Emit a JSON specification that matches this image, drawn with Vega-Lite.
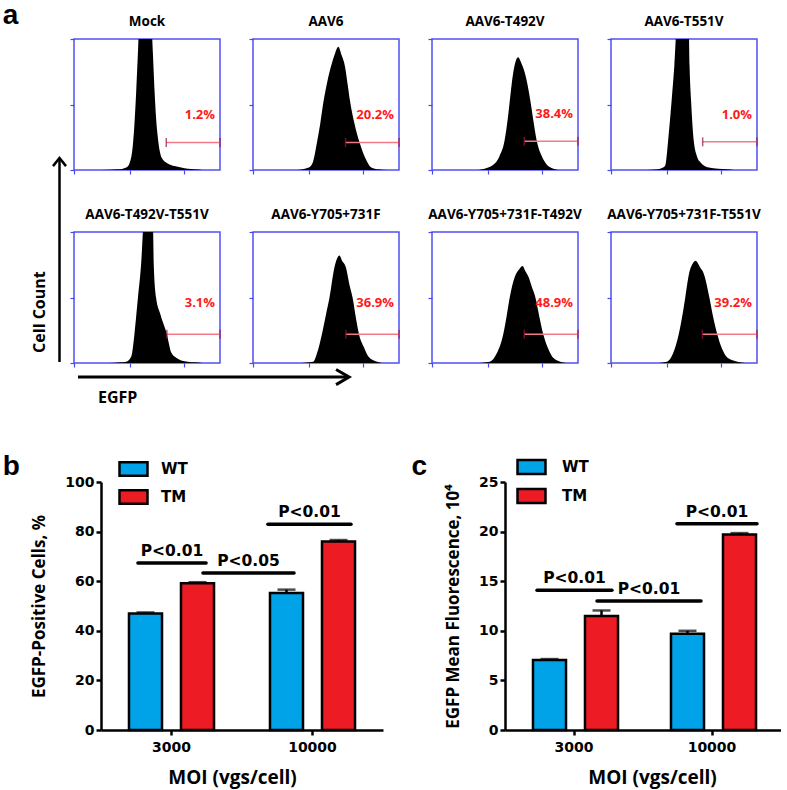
{
"$schema": "https://vega.github.io/schema/vega-lite/v6.json",
"background": "white",
"padding": {"left": 2, "top": 2, "right": 0, "bottom": 6},
"title": {"text": "a", "anchor": "start", "frame": "bounds", "font": "Liberation Sans", "fontSize": 28, "fontWeight": "bold", "color": "black", "offset": -15.5},
"config": {"view": {"stroke": null}, "font": "Open Sans"},
"columns": 5,
"bounds": "flush",
"spacing": {"row": 0, "column": 33},
"resolve": {"scale": {"fill": "independent"}, "legend": {"fill": "independent"}},
"datasets": {
"hist": [
{"p":"Mock","x":0.9,"y":0},{"p":"Mock","x":1.5,"y":0.5},{"p":"Mock","x":1.79,"y":2},{"p":"Mock","x":1.9,"y":5},{"p":"Mock","x":2.02,"y":20},{"p":"Mock","x":2.07,"y":35},{"p":"Mock","x":2.13,"y":60},{"p":"Mock","x":2.19,"y":90},{"p":"Mock","x":2.24,"y":115},{"p":"Mock","x":2.45,"y":125},{"p":"Mock","x":2.64,"y":115},{"p":"Mock","x":2.7,"y":90},{"p":"Mock","x":2.76,"y":60},{"p":"Mock","x":2.81,"y":40},{"p":"Mock","x":2.87,"y":25},{"p":"Mock","x":2.96,"y":12},{"p":"Mock","x":3.04,"y":8},{"p":"Mock","x":3.21,"y":5},{"p":"Mock","x":3.44,"y":3},{"p":"Mock","x":3.67,"y":2},{"p":"Mock","x":3.9,"y":1},{"p":"Mock","x":4.12,"y":0.5},{"p":"Mock","x":4.4,"y":0},
{"p":"AAV6","x":1.5,"y":0},{"p":"AAV6","x":1.91,"y":2},{"p":"AAV6","x":2.05,"y":6},{"p":"AAV6","x":2.19,"y":21},{"p":"AAV6","x":2.3,"y":35},{"p":"AAV6","x":2.42,"y":53},{"p":"AAV6","x":2.55,"y":68},{"p":"AAV6","x":2.67,"y":79},{"p":"AAV6","x":2.81,"y":89},{"p":"AAV6","x":2.92,"y":94},{"p":"AAV6","x":3.03,"y":88},{"p":"AAV6","x":3.15,"y":79},{"p":"AAV6","x":3.25,"y":64},{"p":"AAV6","x":3.32,"y":53},{"p":"AAV6","x":3.48,"y":35},{"p":"AAV6","x":3.65,"y":21},{"p":"AAV6","x":3.85,"y":9},{"p":"AAV6","x":4.05,"y":2},{"p":"AAV6","x":4.3,"y":0.5},{"p":"AAV6","x":4.6,"y":0},
{"p":"AAV6-T492V","x":1.5,"y":0},{"p":"AAV6-T492V","x":1.8,"y":1},{"p":"AAV6-T492V","x":2.1,"y":4},{"p":"AAV6-T492V","x":2.3,"y":10},{"p":"AAV6-T492V","x":2.49,"y":23},{"p":"AAV6-T492V","x":2.6,"y":40},{"p":"AAV6-T492V","x":2.67,"y":54},{"p":"AAV6-T492V","x":2.78,"y":74},{"p":"AAV6-T492V","x":2.88,"y":84},{"p":"AAV6-T492V","x":2.95,"y":86},{"p":"AAV6-T492V","x":3.05,"y":82},{"p":"AAV6-T492V","x":3.18,"y":74},{"p":"AAV6-T492V","x":3.36,"y":54},{"p":"AAV6-T492V","x":3.47,"y":38},{"p":"AAV6-T492V","x":3.58,"y":23},{"p":"AAV6-T492V","x":3.75,"y":11},{"p":"AAV6-T492V","x":3.9,"y":5},{"p":"AAV6-T492V","x":4.16,"y":1},{"p":"AAV6-T492V","x":4.4,"y":0},
{"p":"AAV6-T551V","x":1.2,"y":0},{"p":"AAV6-T551V","x":1.6,"y":0.5},{"p":"AAV6-T551V","x":1.85,"y":3},{"p":"AAV6-T551V","x":1.96,"y":23},{"p":"AAV6-T551V","x":2.08,"y":54},{"p":"AAV6-T551V","x":2.17,"y":80},{"p":"AAV6-T551V","x":2.25,"y":110},{"p":"AAV6-T551V","x":2.45,"y":125},{"p":"AAV6-T551V","x":2.66,"y":110},{"p":"AAV6-T551V","x":2.69,"y":80},{"p":"AAV6-T551V","x":2.74,"y":54},{"p":"AAV6-T551V","x":2.83,"y":23},{"p":"AAV6-T551V","x":2.95,"y":10},{"p":"AAV6-T551V","x":3.06,"y":6},{"p":"AAV6-T551V","x":3.35,"y":2},{"p":"AAV6-T551V","x":3.98,"y":0.5},{"p":"AAV6-T551V","x":4.2,"y":0},
{"p":"AAV6-T492V-T551V","x":1.2,"y":0},{"p":"AAV6-T492V-T551V","x":1.6,"y":0.5},{"p":"AAV6-T492V-T551V","x":1.79,"y":1},{"p":"AAV6-T492V-T551V","x":1.96,"y":5},{"p":"AAV6-T492V-T551V","x":2.07,"y":22},{"p":"AAV6-T492V-T551V","x":2.19,"y":50},{"p":"AAV6-T492V-T551V","x":2.3,"y":76},{"p":"AAV6-T492V-T551V","x":2.39,"y":110},{"p":"AAV6-T492V-T551V","x":2.55,"y":125},{"p":"AAV6-T492V-T551V","x":2.7,"y":110},{"p":"AAV6-T492V-T551V","x":2.73,"y":76},{"p":"AAV6-T492V-T551V","x":2.81,"y":50},{"p":"AAV6-T492V-T551V","x":2.96,"y":37},{"p":"AAV6-T492V-T551V","x":3.18,"y":22},{"p":"AAV6-T492V-T551V","x":3.33,"y":8},{"p":"AAV6-T492V-T551V","x":3.5,"y":4},{"p":"AAV6-T492V-T551V","x":3.67,"y":2},{"p":"AAV6-T492V-T551V","x":4.12,"y":0.5},{"p":"AAV6-T492V-T551V","x":4.4,"y":0},
{"p":"AAV6-Y705+731F","x":1.5,"y":0},{"p":"AAV6-Y705+731F","x":2.06,"y":1},{"p":"AAV6-Y705+731F","x":2.2,"y":8},{"p":"AAV6-Y705+731F","x":2.36,"y":22},{"p":"AAV6-Y705+731F","x":2.5,"y":37},{"p":"AAV6-Y705+731F","x":2.62,"y":50},{"p":"AAV6-Y705+731F","x":2.79,"y":73},{"p":"AAV6-Y705+731F","x":2.96,"y":82},{"p":"AAV6-Y705+731F","x":3.05,"y":78},{"p":"AAV6-Y705+731F","x":3.18,"y":73},{"p":"AAV6-Y705+731F","x":3.3,"y":60},{"p":"AAV6-Y705+731F","x":3.41,"y":50},{"p":"AAV6-Y705+731F","x":3.52,"y":35},{"p":"AAV6-Y705+731F","x":3.63,"y":22},{"p":"AAV6-Y705+731F","x":3.8,"y":12},{"p":"AAV6-Y705+731F","x":3.95,"y":5},{"p":"AAV6-Y705+731F","x":4.25,"y":1},{"p":"AAV6-Y705+731F","x":4.5,"y":0},
{"p":"AAV6-Y705+731F-T492V","x":1.5,"y":0},{"p":"AAV6-Y705+731F-T492V","x":1.98,"y":1},{"p":"AAV6-Y705+731F-T492V","x":2.21,"y":7},{"p":"AAV6-Y705+731F-T492V","x":2.44,"y":22},{"p":"AAV6-Y705+731F-T492V","x":2.55,"y":35},{"p":"AAV6-Y705+731F-T492V","x":2.67,"y":51},{"p":"AAV6-Y705+731F-T492V","x":2.84,"y":66},{"p":"AAV6-Y705+731F-T492V","x":3.0,"y":72},{"p":"AAV6-Y705+731F-T492V","x":3.1,"y":74},{"p":"AAV6-Y705+731F-T492V","x":3.2,"y":70},{"p":"AAV6-Y705+731F-T492V","x":3.3,"y":66},{"p":"AAV6-Y705+731F-T492V","x":3.42,"y":58},{"p":"AAV6-Y705+731F-T492V","x":3.53,"y":51},{"p":"AAV6-Y705+731F-T492V","x":3.68,"y":35},{"p":"AAV6-Y705+731F-T492V","x":3.81,"y":22},{"p":"AAV6-Y705+731F-T492V","x":4.0,"y":10},{"p":"AAV6-Y705+731F-T492V","x":4.15,"y":4},{"p":"AAV6-Y705+731F-T492V","x":4.39,"y":1},{"p":"AAV6-Y705+731F-T492V","x":4.6,"y":0},
{"p":"AAV6-Y705+731F-T551V","x":1.5,"y":0},{"p":"AAV6-Y705+731F-T551V","x":1.92,"y":1},{"p":"AAV6-Y705+731F-T551V","x":2.12,"y":7},{"p":"AAV6-Y705+731F-T551V","x":2.32,"y":22},{"p":"AAV6-Y705+731F-T551V","x":2.45,"y":37},{"p":"AAV6-Y705+731F-T551V","x":2.55,"y":51},{"p":"AAV6-Y705+731F-T551V","x":2.67,"y":68},{"p":"AAV6-Y705+731F-T551V","x":2.8,"y":76},{"p":"AAV6-Y705+731F-T551V","x":2.9,"y":78},{"p":"AAV6-Y705+731F-T551V","x":3.05,"y":73},{"p":"AAV6-Y705+731F-T551V","x":3.18,"y":68},{"p":"AAV6-Y705+731F-T551V","x":3.36,"y":51},{"p":"AAV6-Y705+731F-T551V","x":3.5,"y":35},{"p":"AAV6-Y705+731F-T551V","x":3.64,"y":22},{"p":"AAV6-Y705+731F-T551V","x":3.8,"y":11},{"p":"AAV6-Y705+731F-T551V","x":3.99,"y":4},{"p":"AAV6-Y705+731F-T551V","x":4.33,"y":1},{"p":"AAV6-Y705+731F-T551V","x":4.6,"y":0}
],
"gates": [
{"p":"Mock","g1":3.16,"g2":5,"gy":21,"lab":"1.2%"},
{"p":"AAV6","g1":3.17,"g2":5,"gy":21,"lab":"20.2%"},
{"p":"AAV6-T492V","g1":3.16,"g2":5,"gy":22,"lab":"38.4%"},
{"p":"AAV6-T551V","g1":3.14,"g2":5,"gy":21.5,"lab":"1.0%"},
{"p":"AAV6-T492V-T551V","g1":3.18,"g2":5,"gy":22,"lab":"3.1%"},
{"p":"AAV6-Y705+731F","g1":3.18,"g2":5,"gy":22,"lab":"36.9%"},
{"p":"AAV6-Y705+731F-T492V","g1":3.16,"g2":5,"gy":22,"lab":"48.9%"},
{"p":"AAV6-Y705+731F-T551V","g1":3.13,"g2":5,"gy":22,"lab":"39.2%"}
],
"bdata": [
{"moi":"3000","grp":"WT","v":47.0,"hi":47.4},{"moi":"3000","grp":"TM","v":59.2,"hi":59.6},
{"moi":"10000","grp":"WT","v":55.2,"hi":56.6},{"moi":"10000","grp":"TM","v":76.0,"hi":76.6}
],
"cdata": [
{"moi":"3000","grp":"WT","v":7.05,"hi":7.15},{"moi":"3000","grp":"TM","v":11.5,"hi":12.05},
{"moi":"10000","grp":"WT","v":9.7,"hi":10.0},{"moi":"10000","grp":"TM","v":19.7,"hi":19.85}
],
"bsig": [
{"x1":0.262,"x2":0.745,"y":67.3,"t":"P<0.01"},
{"x1":0.723,"x2":1.369,"y":63.3,"t":"P<0.05"},
{"x1":1.184,"x2":1.773,"y":83,"t":"P<0.01"}
],
"csig": [
{"x1":0.232,"x2":0.775,"y":14.1,"t":"P<0.01"},
{"x1":0.667,"x2":1.42,"y":13.0,"t":"P<0.01"},
{"x1":1.246,"x2":1.826,"y":20.8,"t":"P<0.01"}
]
},
"concat": [
  {"width": 20, "height": 193,
   "layer": [
    {"data": {"values": [{"x": 1.925, "y1": 0, "y2": 0.383}]},
     "mark": {"type": "rule", "color": "black", "strokeWidth": 2.5},
     "encoding": {"x": {"field": "x", "type": "quantitative", "scale": {"domain": [0, 1], "nice": false}, "axis": null},
                  "y": {"field": "y1", "type": "quantitative", "scale": {"domain": [0, 1], "nice": false}, "axis": null},
                  "y2": {"field": "y2"}}},
    {"data": {"values": [{"x": 1.925, "y": 0.383}]},
     "mark": {"type": "point", "shape": "M-0.5,0.62L0,0L0.5,0.62", "size": 676, "filled": false, "color": "black", "strokeWidth": 2.5, "opacity": 1},
     "encoding": {"x": {"field": "x", "type": "quantitative", "axis": null}, "y": {"field": "y", "type": "quantitative", "axis": null}}}
   ]},
  {"width":146,"height":131,"view":{"stroke":"#5050f5","strokeWidth":1.5},
   "title":{"text":"Mock","font":"Open Sans","fontSize":13.5,"fontWeight":"bold","color":"black","offset":9.5},
   "layer":[
    {"data":{"name":"hist"},"transform":[{"filter":"datum.p === 'Mock'"}],
     "mark":{"type":"area","color":"black","interpolate":"monotone","clip":true},
     "encoding":{"x":{"field":"x","type":"quantitative","scale":{"domain":[0,5],"nice":false,"zero":false},"axis":{"values":[0,0.301,0.477,0.602,0.699,0.778,0.845,0.903,0.954,1,1.301,1.477,1.602,1.699,1.778,1.845,1.903,1.954,2,2.301,2.477,2.602,2.699,2.778,2.845,2.903,2.954,3,3.301,3.477,3.602,3.699,3.778,3.845,3.903,3.954,4,4.301,4.477,4.602,4.699,4.778,4.845,4.903,4.954,5],"labels":false,"domain":false,"grid":false,"title":null,"tickColor":"#4848f0","tickSize":4,"tickWidth":1.2}},
                 "y":{"field":"y","type":"quantitative","scale":{"domain":[0,100],"nice":false},"axis":{"values":[0,25,50,75,100],"labels":false,"domain":false,"grid":false,"title":null,"tickColor":"#4848f0","tickSize":4,"tickWidth":1.2}}}},
    {"data":{"name":"gates"},"transform":[{"filter":"datum.p === 'Mock'"}],
     "layer":[
      {"mark":{"type":"rule","color":"#f27a88","strokeWidth":1.5},"encoding":{"x":{"field":"g1","type":"quantitative"},"x2":{"field":"g2"},"y":{"field":"gy","type":"quantitative"}}},
      {"mark":{"type":"tick","orient":"vertical","color":"#a0103c","size":9,"thickness":1.5},"encoding":{"x":{"field":"g1","type":"quantitative"},"y":{"field":"gy","type":"quantitative"}}},
      {"mark":{"type":"tick","orient":"vertical","color":"#a0103c","size":9,"thickness":1.5},"encoding":{"x":{"field":"g2","type":"quantitative"},"y":{"field":"gy","type":"quantitative"}}},
      {"mark":{"type":"text","align":"right","baseline":"middle","dx":-5,"dy":-27,"color":"#ff1a1a","font":"Open Sans","fontSize":13,"fontWeight":"bold"},"encoding":{"x":{"field":"g2","type":"quantitative"},"y":{"field":"gy","type":"quantitative"},"text":{"field":"lab"}}}
     ]}
   ]},
  {"width":146,"height":131,"view":{"stroke":"#5050f5","strokeWidth":1.5},
   "title":{"text":"AAV6","font":"Open Sans","fontSize":13.5,"fontWeight":"bold","color":"black","offset":9.5},
   "layer":[
    {"data":{"name":"hist"},"transform":[{"filter":"datum.p === 'AAV6'"}],
     "mark":{"type":"area","color":"black","interpolate":"monotone","clip":true},
     "encoding":{"x":{"field":"x","type":"quantitative","scale":{"domain":[0,5],"nice":false,"zero":false},"axis":{"values":[0,0.301,0.477,0.602,0.699,0.778,0.845,0.903,0.954,1,1.301,1.477,1.602,1.699,1.778,1.845,1.903,1.954,2,2.301,2.477,2.602,2.699,2.778,2.845,2.903,2.954,3,3.301,3.477,3.602,3.699,3.778,3.845,3.903,3.954,4,4.301,4.477,4.602,4.699,4.778,4.845,4.903,4.954,5],"labels":false,"domain":false,"grid":false,"title":null,"tickColor":"#4848f0","tickSize":4,"tickWidth":1.2}},
                 "y":{"field":"y","type":"quantitative","scale":{"domain":[0,100],"nice":false},"axis":{"values":[0,25,50,75,100],"labels":false,"domain":false,"grid":false,"title":null,"tickColor":"#4848f0","tickSize":4,"tickWidth":1.2}}}},
    {"data":{"name":"gates"},"transform":[{"filter":"datum.p === 'AAV6'"}],
     "layer":[
      {"mark":{"type":"rule","color":"#f27a88","strokeWidth":1.5},"encoding":{"x":{"field":"g1","type":"quantitative"},"x2":{"field":"g2"},"y":{"field":"gy","type":"quantitative"}}},
      {"mark":{"type":"tick","orient":"vertical","color":"#a0103c","size":9,"thickness":1.5},"encoding":{"x":{"field":"g1","type":"quantitative"},"y":{"field":"gy","type":"quantitative"}}},
      {"mark":{"type":"tick","orient":"vertical","color":"#a0103c","size":9,"thickness":1.5},"encoding":{"x":{"field":"g2","type":"quantitative"},"y":{"field":"gy","type":"quantitative"}}},
      {"mark":{"type":"text","align":"right","baseline":"middle","dx":-5,"dy":-27,"color":"#ff1a1a","font":"Open Sans","fontSize":13,"fontWeight":"bold"},"encoding":{"x":{"field":"g2","type":"quantitative"},"y":{"field":"gy","type":"quantitative"},"text":{"field":"lab"}}}
     ]}
   ]},
  {"width":146,"height":131,"view":{"stroke":"#5050f5","strokeWidth":1.5},
   "title":{"text":"AAV6-T492V","font":"Open Sans","fontSize":13.5,"fontWeight":"bold","color":"black","offset":9.5},
   "layer":[
    {"data":{"name":"hist"},"transform":[{"filter":"datum.p === 'AAV6-T492V'"}],
     "mark":{"type":"area","color":"black","interpolate":"monotone","clip":true},
     "encoding":{"x":{"field":"x","type":"quantitative","scale":{"domain":[0,5],"nice":false,"zero":false},"axis":{"values":[0,0.301,0.477,0.602,0.699,0.778,0.845,0.903,0.954,1,1.301,1.477,1.602,1.699,1.778,1.845,1.903,1.954,2,2.301,2.477,2.602,2.699,2.778,2.845,2.903,2.954,3,3.301,3.477,3.602,3.699,3.778,3.845,3.903,3.954,4,4.301,4.477,4.602,4.699,4.778,4.845,4.903,4.954,5],"labels":false,"domain":false,"grid":false,"title":null,"tickColor":"#4848f0","tickSize":4,"tickWidth":1.2}},
                 "y":{"field":"y","type":"quantitative","scale":{"domain":[0,100],"nice":false},"axis":{"values":[0,25,50,75,100],"labels":false,"domain":false,"grid":false,"title":null,"tickColor":"#4848f0","tickSize":4,"tickWidth":1.2}}}},
    {"data":{"name":"gates"},"transform":[{"filter":"datum.p === 'AAV6-T492V'"}],
     "layer":[
      {"mark":{"type":"rule","color":"#f27a88","strokeWidth":1.5},"encoding":{"x":{"field":"g1","type":"quantitative"},"x2":{"field":"g2"},"y":{"field":"gy","type":"quantitative"}}},
      {"mark":{"type":"tick","orient":"vertical","color":"#a0103c","size":9,"thickness":1.5},"encoding":{"x":{"field":"g1","type":"quantitative"},"y":{"field":"gy","type":"quantitative"}}},
      {"mark":{"type":"tick","orient":"vertical","color":"#a0103c","size":9,"thickness":1.5},"encoding":{"x":{"field":"g2","type":"quantitative"},"y":{"field":"gy","type":"quantitative"}}},
      {"mark":{"type":"text","align":"right","baseline":"middle","dx":-5,"dy":-27,"color":"#ff1a1a","font":"Open Sans","fontSize":13,"fontWeight":"bold"},"encoding":{"x":{"field":"g2","type":"quantitative"},"y":{"field":"gy","type":"quantitative"},"text":{"field":"lab"}}}
     ]}
   ]},
  {"width":146,"height":131,"view":{"stroke":"#5050f5","strokeWidth":1.5},
   "title":{"text":"AAV6-T551V","font":"Open Sans","fontSize":13.5,"fontWeight":"bold","color":"black","offset":9.5},
   "layer":[
    {"data":{"name":"hist"},"transform":[{"filter":"datum.p === 'AAV6-T551V'"}],
     "mark":{"type":"area","color":"black","interpolate":"monotone","clip":true},
     "encoding":{"x":{"field":"x","type":"quantitative","scale":{"domain":[0,5],"nice":false,"zero":false},"axis":{"values":[0,0.301,0.477,0.602,0.699,0.778,0.845,0.903,0.954,1,1.301,1.477,1.602,1.699,1.778,1.845,1.903,1.954,2,2.301,2.477,2.602,2.699,2.778,2.845,2.903,2.954,3,3.301,3.477,3.602,3.699,3.778,3.845,3.903,3.954,4,4.301,4.477,4.602,4.699,4.778,4.845,4.903,4.954,5],"labels":false,"domain":false,"grid":false,"title":null,"tickColor":"#4848f0","tickSize":4,"tickWidth":1.2}},
                 "y":{"field":"y","type":"quantitative","scale":{"domain":[0,100],"nice":false},"axis":{"values":[0,25,50,75,100],"labels":false,"domain":false,"grid":false,"title":null,"tickColor":"#4848f0","tickSize":4,"tickWidth":1.2}}}},
    {"data":{"name":"gates"},"transform":[{"filter":"datum.p === 'AAV6-T551V'"}],
     "layer":[
      {"mark":{"type":"rule","color":"#f27a88","strokeWidth":1.5},"encoding":{"x":{"field":"g1","type":"quantitative"},"x2":{"field":"g2"},"y":{"field":"gy","type":"quantitative"}}},
      {"mark":{"type":"tick","orient":"vertical","color":"#a0103c","size":9,"thickness":1.5},"encoding":{"x":{"field":"g1","type":"quantitative"},"y":{"field":"gy","type":"quantitative"}}},
      {"mark":{"type":"tick","orient":"vertical","color":"#a0103c","size":9,"thickness":1.5},"encoding":{"x":{"field":"g2","type":"quantitative"},"y":{"field":"gy","type":"quantitative"}}},
      {"mark":{"type":"text","align":"right","baseline":"middle","dx":-5,"dy":-27,"color":"#ff1a1a","font":"Open Sans","fontSize":13,"fontWeight":"bold"},"encoding":{"x":{"field":"g2","type":"quantitative"},"y":{"field":"gy","type":"quantitative"},"text":{"field":"lab"}}}
     ]}
   ]},
  {"width": 20, "height": 133,
   "layer": [
    {"data": {"values": [{"x": 1.925, "y1": 0.0226, "y2": 1}]},
     "mark": {"type": "rule", "color": "black", "strokeWidth": 2.5},
     "encoding": {"x": {"field": "x", "type": "quantitative", "scale": {"domain": [0, 1], "nice": false}, "axis": null},
                  "y": {"field": "y1", "type": "quantitative", "scale": {"domain": [0, 1], "nice": false}, "axis": null},
                  "y2": {"field": "y2"}}},
    {"data": {"values": [{"x": 0.95, "y": 0.398, "t": "Cell Count"}]},
     "mark": {"type": "text", "angle": 270, "align": "center", "baseline": "middle", "font": "Open Sans", "fontSize": 16, "fontWeight": "bold", "color": "black"},
     "encoding": {"x": {"field": "x", "type": "quantitative", "axis": null}, "y": {"field": "y", "type": "quantitative", "axis": null}, "text": {"field": "t"}}}
   ]},
  {"width":146,"height":131,"view":{"stroke":"#5050f5","strokeWidth":1.5},
   "title":{"text":"AAV6-T492V-T551V","font":"Open Sans","fontSize":13.5,"fontWeight":"bold","color":"black","offset":9.5},
   "layer":[
    {"data":{"name":"hist"},"transform":[{"filter":"datum.p === 'AAV6-T492V-T551V'"}],
     "mark":{"type":"area","color":"black","interpolate":"monotone","clip":true},
     "encoding":{"x":{"field":"x","type":"quantitative","scale":{"domain":[0,5],"nice":false,"zero":false},"axis":{"values":[0,0.301,0.477,0.602,0.699,0.778,0.845,0.903,0.954,1,1.301,1.477,1.602,1.699,1.778,1.845,1.903,1.954,2,2.301,2.477,2.602,2.699,2.778,2.845,2.903,2.954,3,3.301,3.477,3.602,3.699,3.778,3.845,3.903,3.954,4,4.301,4.477,4.602,4.699,4.778,4.845,4.903,4.954,5],"labels":false,"domain":false,"grid":false,"title":null,"tickColor":"#4848f0","tickSize":4,"tickWidth":1.2}},
                 "y":{"field":"y","type":"quantitative","scale":{"domain":[0,100],"nice":false},"axis":{"values":[0,25,50,75,100],"labels":false,"domain":false,"grid":false,"title":null,"tickColor":"#4848f0","tickSize":4,"tickWidth":1.2}}}},
    {"data":{"name":"gates"},"transform":[{"filter":"datum.p === 'AAV6-T492V-T551V'"}],
     "layer":[
      {"mark":{"type":"rule","color":"#f27a88","strokeWidth":1.5},"encoding":{"x":{"field":"g1","type":"quantitative"},"x2":{"field":"g2"},"y":{"field":"gy","type":"quantitative"}}},
      {"mark":{"type":"tick","orient":"vertical","color":"#a0103c","size":9,"thickness":1.5},"encoding":{"x":{"field":"g1","type":"quantitative"},"y":{"field":"gy","type":"quantitative"}}},
      {"mark":{"type":"tick","orient":"vertical","color":"#a0103c","size":9,"thickness":1.5},"encoding":{"x":{"field":"g2","type":"quantitative"},"y":{"field":"gy","type":"quantitative"}}},
      {"mark":{"type":"text","align":"right","baseline":"middle","dx":-5,"dy":-31,"color":"#ff1a1a","font":"Open Sans","fontSize":13,"fontWeight":"bold"},"encoding":{"x":{"field":"g2","type":"quantitative"},"y":{"field":"gy","type":"quantitative"},"text":{"field":"lab"}}}
     ]}
   ]},
  {"width":146,"height":131,"view":{"stroke":"#5050f5","strokeWidth":1.5},
   "title":{"text":"AAV6-Y705+731F","font":"Open Sans","fontSize":13.5,"fontWeight":"bold","color":"black","offset":9.5},
   "layer":[
    {"data":{"name":"hist"},"transform":[{"filter":"datum.p === 'AAV6-Y705+731F'"}],
     "mark":{"type":"area","color":"black","interpolate":"monotone","clip":true},
     "encoding":{"x":{"field":"x","type":"quantitative","scale":{"domain":[0,5],"nice":false,"zero":false},"axis":{"values":[0,0.301,0.477,0.602,0.699,0.778,0.845,0.903,0.954,1,1.301,1.477,1.602,1.699,1.778,1.845,1.903,1.954,2,2.301,2.477,2.602,2.699,2.778,2.845,2.903,2.954,3,3.301,3.477,3.602,3.699,3.778,3.845,3.903,3.954,4,4.301,4.477,4.602,4.699,4.778,4.845,4.903,4.954,5],"labels":false,"domain":false,"grid":false,"title":null,"tickColor":"#4848f0","tickSize":4,"tickWidth":1.2}},
                 "y":{"field":"y","type":"quantitative","scale":{"domain":[0,100],"nice":false},"axis":{"values":[0,25,50,75,100],"labels":false,"domain":false,"grid":false,"title":null,"tickColor":"#4848f0","tickSize":4,"tickWidth":1.2}}}},
    {"data":{"name":"gates"},"transform":[{"filter":"datum.p === 'AAV6-Y705+731F'"}],
     "layer":[
      {"mark":{"type":"rule","color":"#f27a88","strokeWidth":1.5},"encoding":{"x":{"field":"g1","type":"quantitative"},"x2":{"field":"g2"},"y":{"field":"gy","type":"quantitative"}}},
      {"mark":{"type":"tick","orient":"vertical","color":"#a0103c","size":9,"thickness":1.5},"encoding":{"x":{"field":"g1","type":"quantitative"},"y":{"field":"gy","type":"quantitative"}}},
      {"mark":{"type":"tick","orient":"vertical","color":"#a0103c","size":9,"thickness":1.5},"encoding":{"x":{"field":"g2","type":"quantitative"},"y":{"field":"gy","type":"quantitative"}}},
      {"mark":{"type":"text","align":"right","baseline":"middle","dx":-5,"dy":-31,"color":"#ff1a1a","font":"Open Sans","fontSize":13,"fontWeight":"bold"},"encoding":{"x":{"field":"g2","type":"quantitative"},"y":{"field":"gy","type":"quantitative"},"text":{"field":"lab"}}}
     ]}
   ]},
  {"width":146,"height":131,"view":{"stroke":"#5050f5","strokeWidth":1.5},
   "title":{"text":"AAV6-Y705+731F-T492V","font":"Open Sans","fontSize":13.5,"fontWeight":"bold","color":"black","offset":9.5},
   "layer":[
    {"data":{"name":"hist"},"transform":[{"filter":"datum.p === 'AAV6-Y705+731F-T492V'"}],
     "mark":{"type":"area","color":"black","interpolate":"monotone","clip":true},
     "encoding":{"x":{"field":"x","type":"quantitative","scale":{"domain":[0,5],"nice":false,"zero":false},"axis":{"values":[0,0.301,0.477,0.602,0.699,0.778,0.845,0.903,0.954,1,1.301,1.477,1.602,1.699,1.778,1.845,1.903,1.954,2,2.301,2.477,2.602,2.699,2.778,2.845,2.903,2.954,3,3.301,3.477,3.602,3.699,3.778,3.845,3.903,3.954,4,4.301,4.477,4.602,4.699,4.778,4.845,4.903,4.954,5],"labels":false,"domain":false,"grid":false,"title":null,"tickColor":"#4848f0","tickSize":4,"tickWidth":1.2}},
                 "y":{"field":"y","type":"quantitative","scale":{"domain":[0,100],"nice":false},"axis":{"values":[0,25,50,75,100],"labels":false,"domain":false,"grid":false,"title":null,"tickColor":"#4848f0","tickSize":4,"tickWidth":1.2}}}},
    {"data":{"name":"gates"},"transform":[{"filter":"datum.p === 'AAV6-Y705+731F-T492V'"}],
     "layer":[
      {"mark":{"type":"rule","color":"#f27a88","strokeWidth":1.5},"encoding":{"x":{"field":"g1","type":"quantitative"},"x2":{"field":"g2"},"y":{"field":"gy","type":"quantitative"}}},
      {"mark":{"type":"tick","orient":"vertical","color":"#a0103c","size":9,"thickness":1.5},"encoding":{"x":{"field":"g1","type":"quantitative"},"y":{"field":"gy","type":"quantitative"}}},
      {"mark":{"type":"tick","orient":"vertical","color":"#a0103c","size":9,"thickness":1.5},"encoding":{"x":{"field":"g2","type":"quantitative"},"y":{"field":"gy","type":"quantitative"}}},
      {"mark":{"type":"text","align":"right","baseline":"middle","dx":-5,"dy":-31,"color":"#ff1a1a","font":"Open Sans","fontSize":13,"fontWeight":"bold"},"encoding":{"x":{"field":"g2","type":"quantitative"},"y":{"field":"gy","type":"quantitative"},"text":{"field":"lab"}}}
     ]}
   ]},
  {"width":146,"height":131,"view":{"stroke":"#5050f5","strokeWidth":1.5},
   "title":{"text":"AAV6-Y705+731F-T551V","font":"Open Sans","fontSize":13.5,"fontWeight":"bold","color":"black","offset":9.5},
   "layer":[
    {"data":{"name":"hist"},"transform":[{"filter":"datum.p === 'AAV6-Y705+731F-T551V'"}],
     "mark":{"type":"area","color":"black","interpolate":"monotone","clip":true},
     "encoding":{"x":{"field":"x","type":"quantitative","scale":{"domain":[0,5],"nice":false,"zero":false},"axis":{"values":[0,0.301,0.477,0.602,0.699,0.778,0.845,0.903,0.954,1,1.301,1.477,1.602,1.699,1.778,1.845,1.903,1.954,2,2.301,2.477,2.602,2.699,2.778,2.845,2.903,2.954,3,3.301,3.477,3.602,3.699,3.778,3.845,3.903,3.954,4,4.301,4.477,4.602,4.699,4.778,4.845,4.903,4.954,5],"labels":false,"domain":false,"grid":false,"title":null,"tickColor":"#4848f0","tickSize":4,"tickWidth":1.2}},
                 "y":{"field":"y","type":"quantitative","scale":{"domain":[0,100],"nice":false},"axis":{"values":[0,25,50,75,100],"labels":false,"domain":false,"grid":false,"title":null,"tickColor":"#4848f0","tickSize":4,"tickWidth":1.2}}}},
    {"data":{"name":"gates"},"transform":[{"filter":"datum.p === 'AAV6-Y705+731F-T551V'"}],
     "layer":[
      {"mark":{"type":"rule","color":"#f27a88","strokeWidth":1.5},"encoding":{"x":{"field":"g1","type":"quantitative"},"x2":{"field":"g2"},"y":{"field":"gy","type":"quantitative"}}},
      {"mark":{"type":"tick","orient":"vertical","color":"#a0103c","size":9,"thickness":1.5},"encoding":{"x":{"field":"g1","type":"quantitative"},"y":{"field":"gy","type":"quantitative"}}},
      {"mark":{"type":"tick","orient":"vertical","color":"#a0103c","size":9,"thickness":1.5},"encoding":{"x":{"field":"g2","type":"quantitative"},"y":{"field":"gy","type":"quantitative"}}},
      {"mark":{"type":"text","align":"right","baseline":"middle","dx":-5,"dy":-31,"color":"#ff1a1a","font":"Open Sans","fontSize":13,"fontWeight":"bold"},"encoding":{"x":{"field":"g2","type":"quantitative"},"y":{"field":"gy","type":"quantitative"},"text":{"field":"lab"}}}
     ]}
   ]},
  {"width": 20, "height": 1, "data": {"values": []}, "mark": "point", "encoding": {}},
  {"width": 146, "height": 117,
   "layer": [
    {"data": {"values": [{"x1": 0.0274, "x2": 1.87, "y": 0.897}]},
     "mark": {"type": "rule", "color": "black", "strokeWidth": 3},
     "encoding": {"x": {"field": "x1", "type": "quantitative", "scale": {"domain": [0, 1], "nice": false}, "axis": null},
                  "x2": {"field": "x2"},
                  "y": {"field": "y", "type": "quantitative", "scale": {"domain": [0, 1], "nice": false}, "axis": null}}},
    {"data": {"values": [{"x": 1.884, "y": 0.897}]},
     "mark": {"type": "point", "shape": "M-1,-0.58L0,0L-1,0.58", "size": 676, "filled": false, "color": "black", "strokeWidth": 3, "opacity": 1},
     "encoding": {"x": {"field": "x", "type": "quantitative", "axis": null}, "y": {"field": "y", "type": "quantitative", "axis": null}}},
    {"data": {"values": [{"x": 0.164, "y": 0.718, "t": "EGFP"}]},
     "mark": {"type": "text", "align": "left", "baseline": "middle", "font": "Open Sans", "fontSize": 16, "fontWeight": "bold", "color": "black"},
     "encoding": {"x": {"field": "x", "type": "quantitative", "axis": null}, "y": {"field": "y", "type": "quantitative", "axis": null}, "text": {"field": "t"}}}
   ]},
  {"width": 1, "height": 1, "data": {"values": []}, "mark": "point", "encoding": {}},
  {"width": 1, "height": 1, "data": {"values": []}, "mark": "point", "encoding": {}},
  {"width": 1, "height": 1, "data": {"values": []}, "mark": "point", "encoding": {}},
  {"width": 20, "height": 1, "data": {"values": []}, "mark": "point", "encoding": {}},
  {"hconcat": [
    {"width": 27, "height": 1, "data": {"values": []}, "mark": "point", "encoding": {}},
    {"width": 282, "height": 248,
     "title": {"text": "b", "anchor": "start", "frame": "bounds", "font": "Liberation Sans", "fontSize": 28, "fontWeight": "bold", "color": "black", "dx": -28, "offset": -27.5},
     "layer": [
      {"data": {"name": "bdata"},
       "encoding": {
         "x": {"field": "moi", "type": "nominal", "sort": ["3000", "10000"], "scale": {"paddingInner": 0, "paddingOuter": 0},
               "axis": {"title": "MOI (vgs/cell)", "titleFont": "Open Sans", "titleFontSize": 19, "titleFontWeight": "bold", "titleColor": "black", "titlePadding": 14, "titleX": 131, "labelFont": "DejaVu Sans", "labelFontSize": 14, "labelFontWeight": "bold", "labelColor": "black", "labelAngle": 0, "labelPadding": 5, "tickSize": 5, "tickWidth": 2.5, "tickColor": "black", "domainColor": "black", "domainWidth": 2.5, "grid": false}},
         "xOffset": {"field": "grp", "type": "nominal", "sort": ["WT", "TM"], "scale": {"paddingInner": 0.365, "paddingOuter": 0.538}}
       },
       "layer": [
        {"mark": {"type": "rule", "color": "black", "strokeWidth": 2.5}, "encoding": {"y": {"field": "v", "type": "quantitative"}, "y2": {"field": "hi"}}},
        {"mark": {"type": "tick", "orient": "horizontal", "color": "black", "size": 18, "thickness": 2.5}, "encoding": {"y": {"field": "hi", "type": "quantitative"}}},
        {"mark": {"type": "bar", "stroke": "black", "strokeWidth": 2.5},
         "encoding": {
           "y": {"field": "v", "type": "quantitative", "scale": {"domain": [0, 100], "nice": false},
                 "axis": {"values": [0, 20, 40, 60, 80, 100], "title": "EGFP-Positive Cells, %", "titleFont": "Open Sans", "titleFontSize": 17, "titleFontWeight": "bold", "titleColor": "black", "titlePadding": 16, "labelFont": "DejaVu Sans", "labelFontSize": 14, "labelFontWeight": "bold", "labelColor": "black", "labelPadding": 2, "tickSize": 5, "tickWidth": 2.5, "tickColor": "black", "domainColor": "black", "domainWidth": 2.5, "grid": false}},
           "fill": {"field": "grp", "type": "nominal", "sort": ["WT", "TM"], "scale": {"domain": ["WT", "TM"], "range": ["#00a2e8", "#ed1c24"]},
                    "legend": {"orient": "none", "legendX": 17, "legendY": -28.5, "title": null, "symbolType": "M-1,-0.48H1V0.48H-1Z", "symbolSize": 784, "symbolStrokeColor": "black", "symbolStrokeWidth": 2.5, "symbolOpacity": 1, "labelFont": "DejaVu Sans", "labelFontWeight": "bold", "labelFontSize": 15, "labelColor": "black", "labelOffset": 12, "rowPadding": 0, "padding": 0}}
         }}
       ]},
      {"data": {"name": "bsig"},
       "encoding": {"y": {"field": "y", "type": "quantitative"}},
       "layer": [
        {"mark": {"type": "rule", "color": "black", "strokeWidth": 3.5, "strokeCap": "round"},
         "encoding": {"x": {"field": "x1", "type": "quantitative", "scale": {"domain": [0, 2], "nice": false, "zero": false}, "axis": null}, "x2": {"field": "x2"}}},
        {"transform": [{"calculate": "(datum.x1 + datum.x2) / 2", "as": "xm"}],
         "mark": {"type": "text", "font": "DejaVu Sans", "fontWeight": "bold", "fontSize": 15.5, "baseline": "alphabetic", "dy": -7, "color": "black"},
         "encoding": {"x": {"field": "xm", "type": "quantitative", "axis": null}, "text": {"field": "t"}}}
       ]}
     ],
     "resolve": {"scale": {"x": "independent"}}},
    {"width": 122, "height": 1, "data": {"values": []}, "mark": "point", "encoding": {}},
    {"width": 276, "height": 248,
     "title": {"text": "c", "anchor": "start", "frame": "bounds", "font": "Liberation Sans", "fontSize": 28, "fontWeight": "bold", "color": "black", "dx": -33, "offset": -29.5},
     "layer": [
      {"data": {"name": "cdata"},
       "encoding": {
         "x": {"field": "moi", "type": "nominal", "sort": ["3000", "10000"], "scale": {"paddingInner": 0, "paddingOuter": 0},
               "axis": {"title": "MOI (vgs/cell)", "titleFont": "Open Sans", "titleFontSize": 19, "titleFontWeight": "bold", "titleColor": "black", "titlePadding": 14, "titleX": 147, "labelFont": "DejaVu Sans", "labelFontSize": 14, "labelFontWeight": "bold", "labelColor": "black", "labelAngle": 0, "labelPadding": 5, "tickSize": 5, "tickWidth": 2.5, "tickColor": "black", "domainColor": "black", "domainWidth": 2.5, "grid": false}},
         "xOffset": {"field": "grp", "type": "nominal", "sort": ["WT", "TM"], "scale": {"paddingInner": 0.365, "paddingOuter": 0.51}}
       },
       "layer": [
        {"mark": {"type": "rule", "color": "black", "strokeWidth": 2.5}, "encoding": {"y": {"field": "v", "type": "quantitative"}, "y2": {"field": "hi"}}},
        {"mark": {"type": "tick", "orient": "horizontal", "color": "black", "size": 18, "thickness": 2.5}, "encoding": {"y": {"field": "hi", "type": "quantitative"}}},
        {"mark": {"type": "bar", "stroke": "black", "strokeWidth": 2.5},
         "encoding": {
           "y": {"field": "v", "type": "quantitative", "scale": {"domain": [0, 25], "nice": false},
                 "axis": {"values": [0, 5, 10, 15, 20, 25], "title": "EGFP Mean Fluorescence, 10⁴", "titleFont": "Open Sans", "titleFontSize": 17, "titleFontWeight": "bold", "titleColor": "black", "titlePadding": 16, "labelFont": "DejaVu Sans", "labelFontSize": 14, "labelFontWeight": "bold", "labelColor": "black", "labelPadding": 2, "tickSize": 5, "tickWidth": 2.5, "tickColor": "black", "domainColor": "black", "domainWidth": 2.5, "grid": false}},
           "fill": {"field": "grp", "type": "nominal", "sort": ["WT", "TM"], "scale": {"domain": ["WT", "TM"], "range": ["#00a2e8", "#ed1c24"]},
                    "legend": {"orient": "none", "legendX": 11, "legendY": -30.5, "title": null, "symbolType": "M-1,-0.5H1V0.5H-1Z", "symbolSize": 784, "symbolStrokeColor": "black", "symbolStrokeWidth": 2.5, "symbolOpacity": 1, "labelFont": "DejaVu Sans", "labelFontWeight": "bold", "labelFontSize": 15, "labelColor": "black", "labelOffset": 15, "rowPadding": 1, "padding": 0}}
         }}
       ]},
      {"data": {"name": "csig"},
       "encoding": {"y": {"field": "y", "type": "quantitative"}},
       "layer": [
        {"mark": {"type": "rule", "color": "black", "strokeWidth": 3.5, "strokeCap": "round"},
         "encoding": {"x": {"field": "x1", "type": "quantitative", "scale": {"domain": [0, 2], "nice": false, "zero": false}, "axis": null}, "x2": {"field": "x2"}}},
        {"transform": [{"calculate": "(datum.x1 + datum.x2) / 2", "as": "xm"}],
         "mark": {"type": "text", "font": "DejaVu Sans", "fontWeight": "bold", "fontSize": 15.5, "baseline": "alphabetic", "dy": -7, "color": "black"},
         "encoding": {"x": {"field": "xm", "type": "quantitative", "axis": null}, "text": {"field": "t"}}}
       ]}
     ],
     "resolve": {"scale": {"x": "independent"}}}
  ], "spacing": 0, "bounds": "flush", "resolve": {"scale": {"fill": "independent"}, "legend": {"fill": "independent"}}}
]
}
